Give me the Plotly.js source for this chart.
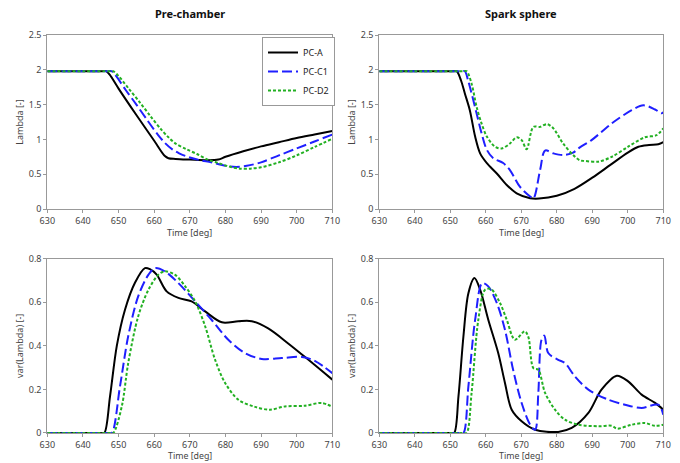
<!DOCTYPE html>
<html>
<head>
<meta charset="utf-8">
<script src="https://cdn.plot.ly/plotly-3.0.1.min.js"></script>
<style>html,body{margin:0;padding:0;background:#fff}#chart{width:680px;height:463px}</style>
</head>
<body>
<div id="chart"></div>
<script>
// ---------- Pre-chamber: Lambda ----------
const pcA_t  = [630,640,645.5,646.5,647.5,650,655,660,663,664,666,670,675,678,680,685,690,695,700,705,710];
const pcA_l  = [1.98,1.98,1.98,1.98,1.93,1.73,1.35,0.98,0.76,0.73,0.72,0.71,0.70,0.71,0.75,0.83,0.90,0.96,1.02,1.07,1.12];
const pcC1_t = [630,640,647,648,649,652,655,658,661,663,665,667,670,673,676,680,683,686,690,695,700,705,710];
const pcC1_l = [1.98,1.98,1.98,1.98,1.93,1.71,1.50,1.28,1.07,0.95,0.86,0.80,0.74,0.70,0.67,0.62,0.605,0.62,0.67,0.77,0.87,0.97,1.07];
const pcD2_t = [630,640,647.5,648.5,650,653,656,659,662,664,666,669,672,675,678,681,684,687,690,695,700,705,710];
const pcD2_l = [1.98,1.98,1.98,1.98,1.91,1.72,1.53,1.33,1.14,1.03,0.94,0.86,0.79,0.71,0.66,0.61,0.58,0.58,0.60,0.67,0.77,0.89,1.01];

// ---------- Spark sphere: Lambda ----------
const ssA_t  = [630,640,650.8,651.8,653,654.1,655.5,657,658.4,660.3,663.1,665.9,668.7,672.5,675,680,685,690,695,700,703,706,708.6,710];
const ssA_l  = [1.98,1.98,1.98,1.98,1.85,1.66,1.42,1.04,0.80,0.66,0.51,0.345,0.225,0.155,0.15,0.19,0.29,0.45,0.63,0.81,0.895,0.92,0.93,0.96];
const ssC1_t = [630,640,653.1,654.1,655,656,657.4,658.8,660.3,662.1,664.9,666.8,669.6,672.5,673.4,675.3,676.7,679,681.8,684.6,686.5,689.8,695.5,701.1,704.4,707.7,709.5,710];
const ssC1_l = [1.98,1.98,1.98,1.98,1.85,1.66,1.375,1.09,0.85,0.73,0.66,0.56,0.32,0.18,0.15,0.56,0.84,0.80,0.776,0.81,0.885,0.99,1.23,1.42,1.49,1.43,1.375,1.39];
const ssD2_t = [630,640,653.6,654.6,656,657.4,658.8,660.3,662.6,664.5,666.8,668.7,670.1,671.5,673.4,675.3,677.2,679,681.8,684.6,686.5,688,691.7,695.5,700.1,704.8,708.1,710];
const ssD2_l = [1.98,1.98,1.98,1.98,1.80,1.47,1.23,1.04,0.895,0.87,0.94,1.03,0.99,0.86,1.18,1.18,1.22,1.16,0.94,0.776,0.70,0.69,0.68,0.75,0.895,1.03,1.06,1.16];

// ---------- Pre-chamber: var(Lambda) ----------
const pvA_t  = [630,640,645,646,647.6,649.5,651.8,654.6,657.4,658.8,660.7,663.5,666.8,670.5,674.3,679,683.6,687.4,692,697.7,703.3,710];
const pvA_v  = [0,0,0,0,0.168,0.40,0.566,0.69,0.757,0.752,0.727,0.65,0.62,0.604,0.558,0.508,0.513,0.513,0.48,0.41,0.336,0.245];
const pvC1_t = [630,640,647.1,648.1,650.4,652.7,655.5,658.4,660.2,663,666.8,671.5,676.1,680.8,685.5,690.2,695.8,701.5,705.2,710];
const pvC1_v = [0,0,0,0,0.214,0.444,0.627,0.727,0.757,0.742,0.688,0.604,0.52,0.428,0.367,0.34,0.344,0.349,0.33,0.275];
const pvD2_t = [630,640,647.5,648.5,650.9,652.7,655.5,658.4,661.2,663,665.8,668.7,671.5,674.3,677.1,679.9,683.6,688.3,692.5,696.7,702.3,707,710];
const pvD2_v = [0,0,0,0,0.122,0.32,0.535,0.658,0.727,0.742,0.727,0.673,0.604,0.49,0.336,0.23,0.153,0.12,0.107,0.122,0.125,0.138,0.12];

// ---------- Spark sphere: var(Lambda) ----------
const svA_t  = [630,640,650.1,651.1,652.3,653.7,655.1,656.8,658.4,660.7,663.5,665.4,667.3,670.1,673.9,680.4,684.2,688.9,692.6,696.9,700.1,703.9,707.7,710];
const svA_v  = [0,0,0,0,0.168,0.444,0.642,0.711,0.658,0.52,0.367,0.23,0.107,0.054,0.015,0.005,0.023,0.092,0.199,0.263,0.237,0.176,0.138,0.107];
const svC1_t = [630,640,652.7,653.7,655.1,657,659,660.7,663.1,665.4,667.7,670.1,672.5,673.9,674.8,675.7,676.5,677.6,680.4,682.3,685.1,688.9,694.5,699.2,703.9,708.6,710];
const svC1_v = [0,0,0,0,0.214,0.52,0.688,0.673,0.597,0.474,0.29,0.138,0.038,0.015,0.184,0.428,0.447,0.367,0.336,0.321,0.26,0.199,0.153,0.13,0.115,0.13,0.084];
const svD2_t = [630,640,653.6,654.6,656,657.9,659.8,661.5,664,665.9,668.2,671,672,673.4,674.8,676.7,679.5,682.3,686.1,691.7,695.5,697,701.1,704.8,707.7,710];
const svD2_v = [0,0,0,0,0.184,0.52,0.658,0.66,0.597,0.52,0.428,0.467,0.44,0.298,0.29,0.184,0.107,0.061,0.038,0.031,0.033,0.02,0.038,0.046,0.033,0.038];

const seriesNames = ['PC-A','PC-C1','PC-D2'];
const xTicks = [630,640,650,660,670,680,690,700,710];
const yTicksLambda = [0,0.5,1,1.5,2,2.5];
const yTicksVar = [0,0.2,0.4,0.6,0.8];
const panelTitles = ['Pre-chamber','Spark sphere'];
const xTitle = 'Time [deg]';

const styles = [
  {color:'#000000', width:2, dash:'solid'},
  {color:'#1f1fff', width:2, dash:'10px,4px'},
  {color:'#22b022', width:2, dash:'3px,2px'}
];

function mk(x, y, i, xa, ya, show){
  return {x:x, y:y, type:'scatter', mode:'lines', name:seriesNames[i],
    xaxis:xa, yaxis:ya, showlegend:show, legendgroup:seriesNames[i],
    line:{color:styles[i].color, width:styles[i].width, dash:styles[i].dash, shape:'spline', smoothing:0.9}};
}

const data = [
  mk(pcA_t,pcA_l,0,'x','y',true), mk(pcC1_t,pcC1_l,1,'x','y',true), mk(pcD2_t,pcD2_l,2,'x','y',true),
  mk(ssA_t,ssA_l,0,'x2','y2',false), mk(ssC1_t,ssC1_l,1,'x2','y2',false), mk(ssD2_t,ssD2_l,2,'x2','y2',false),
  mk(pvA_t,pvA_v,0,'x3','y3',false), mk(pvC1_t,pvC1_v,1,'x3','y3',false), mk(pvD2_t,pvD2_v,2,'x3','y3',false),
  mk(svA_t,svA_v,0,'x4','y4',false), mk(svC1_t,svC1_v,1,'x4','y4',false), mk(svD2_t,svD2_v,2,'x4','y4',false)
];

const FF = 'Noto Sans, Open Sans, sans-serif';
const tickFont = {family:FF, size:9, color:'#444'};
const titleFont = {family:FF, size:9, color:'#444'};

function xax(dom, anchor){
  return {domain:dom, anchor:anchor, range:[630,710], tickvals:xTicks, showgrid:false, zeroline:false,
    showline:true, mirror:true, linecolor:'#999', linewidth:1, ticks:'outside', ticklen:3, tickcolor:'#999',
    tickfont:tickFont};
}
function yax(dom, anchor, range, tv, title){
  return {domain:dom, anchor:anchor, range:range, tickvals:tv, showgrid:false, zeroline:false,
    showline:true, mirror:true, linecolor:'#999', linewidth:1, ticks:'outside', ticklen:3, tickcolor:'#999',
    tickfont:tickFont, title:{text:title, font:titleFont, standoff:3}};
}

const dL = [0.0696,0.4887], dR = [0.5578,0.9754];
const dT = [0.5486,0.9244], dB = [0.0648,0.4412];

function ann(text, xpx, ypx, size, color, yanchor){
  return {text:text, xref:'paper', yref:'paper', x:xpx/680, y:1-ypx/463, xanchor:'center', yanchor:yanchor||'middle',
    showarrow:false, borderpad:0, font:{family:FF, size:size, color:color}};
}

const layout = {
  width:680, height:463,
  margin:{l:0,r:0,t:0,b:0},
  paper_bgcolor:'#fff', plot_bgcolor:'#fff',
  font:{family:FF, color:'#444'},
  xaxis:xax(dL,'y'), yaxis:yax(dT,'x',[0,2.5],yTicksLambda,'Lambda [-]'),
  xaxis2:xax(dR,'y2'), yaxis2:yax(dT,'x2',[0,2.5],yTicksLambda,'Lambda [-]'),
  xaxis3:xax(dL,'y3'), yaxis3:yax(dB,'x3',[0,0.8],yTicksVar,'var(Lambda) [-]'),
  xaxis4:xax(dR,'y4'), yaxis4:yax(dB,'x4',[0,0.8],yTicksVar,'var(Lambda) [-]'),
  showlegend:true,
  legend:{x:262/680, y:1-37/463, xanchor:'left', yanchor:'top', bgcolor:'#fff', bordercolor:'#999', borderwidth:1,
    font:{family:FF, size:9, color:'#222'}, tracegroupgap:0, itemwidth:30},
  annotations:[
    ann('<b>'+panelTitles[0]+'</b>', 190, 14, 11, '#111'),
    ann('<b>'+panelTitles[1]+'</b>', 521, 14, 11, '#111'),
    ann(xTitle, 189.8, 233, 9, '#444'),
    ann(xTitle, 521.3, 233, 9, '#444'),
    ann(xTitle, 189.8, 463, 8.8, '#444', 'bottom'),
    ann(xTitle, 521.3, 463, 8.8, '#444', 'bottom')
  ]
};

Plotly.newPlot('chart', data, layout, {displayModeBar:false, staticPlot:true});
</script>
</body>
</html>
